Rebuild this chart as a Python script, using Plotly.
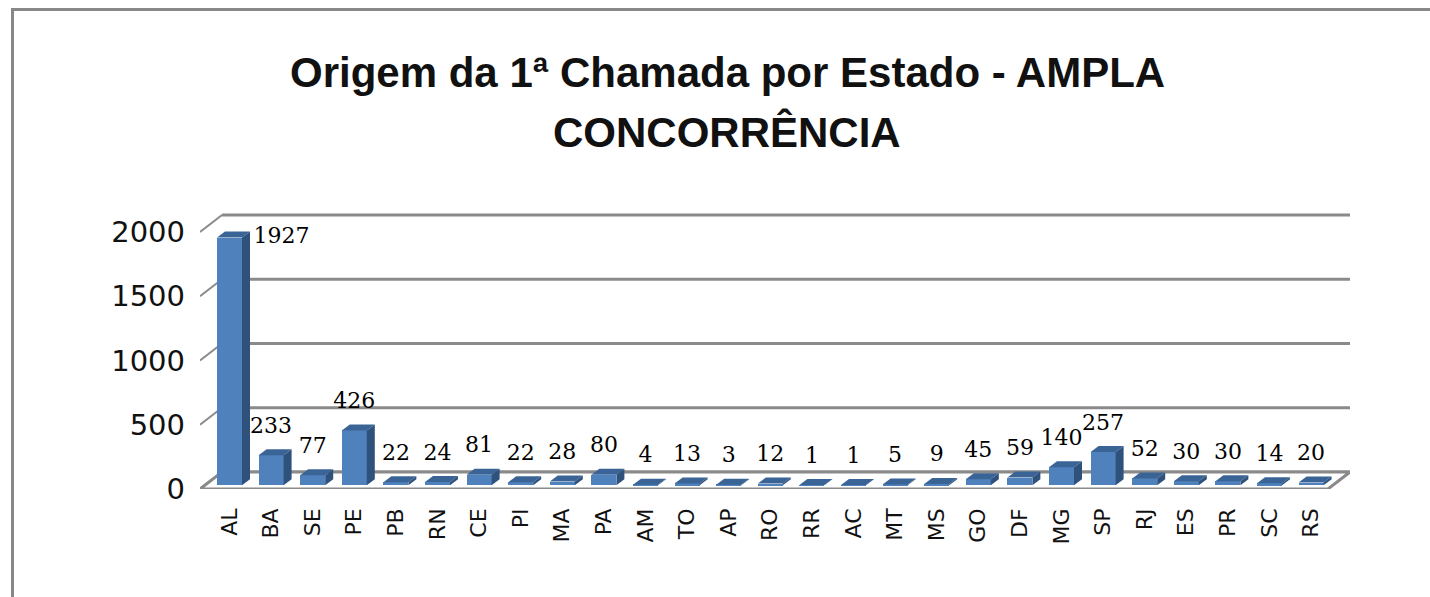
import plotly.graph_objects as go

# ---- data ----
states = ["AL", "BA", "SE", "PE", "PB", "RN", "CE", "PI", "MA", "PA", "AM", "TO", "AP",
          "RO", "RR", "AC", "MT", "MS", "GO", "DF", "MG", "SP", "RJ", "ES", "PR", "SC", "RS"]
values = [1927, 233, 77, 426, 22, 24, 81, 22, 28, 80, 4, 13, 3,
          12, 1, 1, 5, 9, 45, 59, 140, 257, 52, 30, 30, 14, 20]
y_ticks = [0, 500, 1000, 1500, 2000]
title_line1 = "Origem da 1ª Chamada por Estado - AMPLA"
title_line2 = "CONCORRÊNCIA"

# ---- geometry / styling ----
W, H = 1430, 597
L, R, T, B = 200, 80, 213, 108
plot_w = W - L - R
plot_h = H - T - B
n = len(states)
px_per_cat = 41.6
x_first_px = 229.5
x0 = -(x_first_px - L) / px_per_cat
x1 = x0 + plot_w / px_per_cat
units_per_px = 1000 / 128.5
y_max = plot_h * units_per_px

back_dx = 22 / px_per_cat
back_dy = 17 * units_per_px
bar_w = 25 / px_per_cat
bar_base = 30
depth_dx = 8 / px_per_cat
depth_dy = 6 * units_per_px
label_off = 28 * units_per_px

front_col = "#4F81BD"
top_col = "#3B6496"
side_col = "#2F527D"
grid_col = "#8A8A8A"

xs = list(range(n))

fig = go.Figure()

# front faces
fig.add_trace(go.Bar(
    x=xs, y=values, base=[bar_base] * n, width=bar_w,
    marker=dict(color=front_col, line=dict(width=0)),
    hoverinfo="skip", showlegend=False,
))

shapes = []
# back wall gridlines + diagonal ticks
for v in y_ticks:
    shapes.append(dict(type="line", xref="x", yref="y", layer="below",
                       x0=x0 + back_dx, x1=x1, y0=v + back_dy, y1=v + back_dy,
                       line=dict(color=grid_col, width=3)))
    shapes.append(dict(type="line", xref="x", yref="y", layer="below",
                       x0=x0, x1=x0 + back_dx, y0=v, y1=v + back_dy,
                       line=dict(color=grid_col, width=2)))
# floor
x_fr = x1 - back_dx
shapes.append(dict(type="path", xref="x", yref="y", layer="below",
                   path=f"M {x0},0 L {x_fr},0 L {x1},{back_dy} L {x0 + back_dx},{back_dy} Z",
                   fillcolor="white", line=dict(color=grid_col, width=3)))
shapes.append(dict(type="line", xref="x", yref="y", layer="below",
                   x0=x0, x1=x_fr, y0=-2 * units_per_px, y1=-2 * units_per_px,
                   line=dict(color="#C8C8C8", width=3)))

# top and side faces
for i, v in enumerate(values):
    top = bar_base + v
    xl = i - bar_w / 2
    xr = i + bar_w / 2
    shapes.append(dict(type="path", xref="x", yref="y", layer="above",
                       path=(f"M {xl},{top} L {xl + depth_dx},{top + depth_dy} "
                             f"L {xr + depth_dx},{top + depth_dy} L {xr},{top} Z"),
                       fillcolor=top_col, line=dict(width=0)))
    shapes.append(dict(type="path", xref="x", yref="y", layer="above",
                       path=(f"M {xr},{bar_base} L {xr + depth_dx},{bar_base + depth_dy} "
                             f"L {xr + depth_dx},{top + depth_dy} L {xr},{top} Z"),
                       fillcolor=side_col, line=dict(width=0)))

# data labels
lx, ly = [], []
for i, v in enumerate(values):
    top = bar_base + v
    if top + label_off + 10 * units_per_px > y_max:
        lx.append(i + 1.25)
        ly.append(top)
    else:
        lx.append(i)
        ly.append(top + label_off)
fig.add_trace(go.Scatter(
    x=lx, y=ly, mode="text", text=[str(v) for v in values],
    textposition="middle center",
    textfont=dict(family="DejaVu Serif", size=22, color="#000"),
    hoverinfo="skip", showlegend=False, cliponaxis=False,
))

def py(pix):
    return (H - B - pix) / plot_h

annotations = [
    dict(text=f"<b>{title_line1}</b>", xref="paper", yref="paper",
         x=(727 - L) / plot_w, y=py(72), xanchor="center", yanchor="middle",
         showarrow=False, font=dict(family="Liberation Sans Narrow, Arial Narrow, Liberation Sans, sans-serif",
                                    size=42, color="#111")),
    dict(text=f"<b>{title_line2}</b>", xref="paper", yref="paper",
         x=(727 - L) / plot_w, y=py(132), xanchor="center", yanchor="middle",
         showarrow=False, font=dict(family="Liberation Sans Narrow, Arial Narrow, Liberation Sans, sans-serif",
                                    size=42, color="#111")),
]

# chart border (top & left)
shapes.append(dict(type="line", xref="paper", yref="paper",
                   x0=(12 - L) / plot_w, x1=(W + 5 - L) / plot_w, y0=py(9.5), y1=py(9.5),
                   line=dict(color="#888", width=3)))
shapes.append(dict(type="line", xref="paper", yref="paper",
                   x0=(12.5 - L) / plot_w, x1=(12.5 - L) / plot_w, y0=py(8), y1=py(H + 5),
                   line=dict(color="#888", width=3)))

fig.update_layout(
    width=W, height=H,
    margin=dict(l=L, r=R, t=T, b=B, pad=0),
    paper_bgcolor="white", plot_bgcolor="white",
    shapes=shapes, annotations=annotations,
    bargap=0,
    xaxis=dict(range=[x0, x1], tickmode="array", tickvals=xs, ticktext=states,
               tickangle=-90, showgrid=False, zeroline=False, showline=False,
               ticks="", ticklabelstandoff=14,
               tickfont=dict(family="DejaVu Sans", size=22, color="#111")),
    yaxis=dict(range=[0, y_max], tickmode="array", tickvals=y_ticks,
               ticktext=[str(v) for v in y_ticks],
               showgrid=False, zeroline=False, showline=False, ticks="",
               ticklabelstandoff=14,
               tickfont=dict(family="DejaVu Sans", size=29, color="#111")),
)

fig.write_html("out.html", config={"displayModeBar": False},
               post_script="document.body.style.margin='0';")
